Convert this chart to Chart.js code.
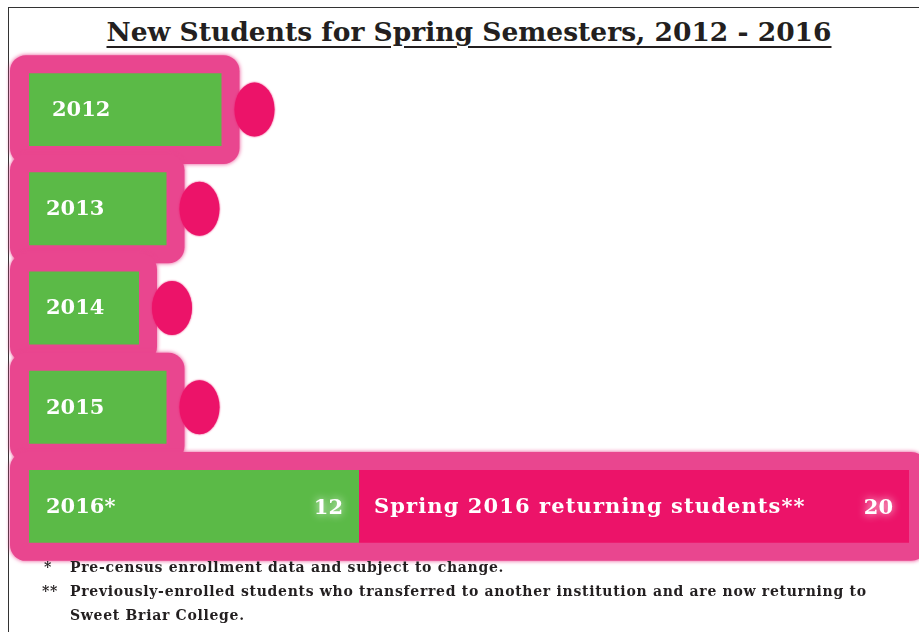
<!DOCTYPE html>
<html>
<head>
<meta charset="utf-8">
<script src="https://cdn.jsdelivr.net/npm/chart.js@4"></script>
<style>
  html, body { margin: 0; padding: 0; background: #fff; }
  #wrap { position: relative; width: 919px; height: 632px; overflow: hidden; }
  #frame { position: absolute; left: 8px; top: 7px; width: 940px; height: 700px; border-left: 1.5px solid #333; border-top: 1.5px solid #333; }
  #title { position: absolute; left: 0; top: 16px; width: 938px; text-align: center;
    font: bold 26.5px 'DejaVu Serif', serif; color: #231f20; text-decoration: underline;
    text-decoration-thickness: 2px; text-underline-offset: 5px; }
  .note { position: absolute; font: bold 14px 'DejaVu Serif', serif; color: #231f20; letter-spacing: 0.7px; }
  canvas { position: absolute; left: 0; top: 0; }
</style>
</head>
<body>
<div id="wrap">
  <div id="frame"></div>
  <div id="title">New Students for Spring Semesters, 2012 - 2016</div>
  <canvas id="grafica" width="919" height="632"></canvas>
  <div class="note" style="left:44px; top:559px;">*</div>
  <div class="note" style="left:70px; top:559px;">Pre-census enrollment data and subject to change.</div>
  <div class="note" style="left:42px; top:583px;">**</div>
  <div class="note" style="left:70px; top:583px;">Previously-enrolled students who transferred to another institution and are now returning to</div>
  <div class="note" style="left:70px; top:607px;">Sweet Briar College.</div>
</div>
<script>
const years = ['2012', '2013', '2014', '2015', '2016*'];
const newStudents = [7, 5, 4, 5, 12];
const returning = [0, 0, 0, 0, 20];
const returningLabel = 'Spring 2016 returning students**';

const green = '#5bba47';
const framePink = '#e9468f';
const deepPink = '#ec1369';

// pink "battery" frames + blobs behind the bars
const framePlugin = {
    id: 'frames',
    beforeDatasetsDraw(chart) {
        const ctx = chart.ctx;
        const m0 = chart.getDatasetMeta(0);
        const m1 = chart.getDatasetMeta(1);
        ctx.save();
        ctx.fillStyle = framePink;
        ctx.shadowColor = framePink;
        ctx.shadowBlur = 4;
        m0.data.forEach((bar, i) => {
            let end = bar.x;
            if (returning[i] > 0) end = m1.data[i].x;
            const h = bar.height;
            ctx.beginPath();
            ctx.roundRect(bar.base - 19, bar.y - h / 2 - 18, end - bar.base + 37, h + 36, 16);
            ctx.fill();
        });
        ctx.shadowBlur = 2;
        ctx.fillStyle = deepPink;
        ctx.shadowColor = deepPink;
        m0.data.forEach((bar, i) => {
            if (returning[i] > 0) return;
            ctx.beginPath();
            ctx.ellipse(bar.x + 33, bar.y, 20, 27, 0, 0, Math.PI * 2);
            ctx.fill();
        });
        ctx.restore();
    }
};

// labels inside the bars
const labelPlugin = {
    id: 'labels',
    afterDatasetsDraw(chart) {
        const ctx = chart.ctx;
        const m0 = chart.getDatasetMeta(0);
        const m1 = chart.getDatasetMeta(1);
        ctx.save();
        ctx.fillStyle = '#fff';
        ctx.textBaseline = 'middle';
        ctx.font = 'bold 21px "DejaVu Serif"';
        m0.data.forEach((bar, i) => {
            ctx.textAlign = 'left';
            ctx.fillText(years[i], bar.base + (i == 0 ? 23 : 17), bar.y + 1);
            if (returning[i] > 0) {
                ctx.shadowColor = 'rgba(255,255,255,0.9)';
                ctx.shadowBlur = 8;
                ctx.textAlign = 'right';
                ctx.fillText(String(newStudents[i]), bar.x - 16, bar.y + 2);
                const b2 = m1.data[i];
                ctx.fillText(String(returning[i]), b2.x - 16, b2.y + 2);
                ctx.shadowBlur = 0;
                ctx.textAlign = 'left';
                ctx.letterSpacing = '1.1px';
                ctx.fillText(returningLabel, b2.base + 15, b2.y + 1);
                ctx.letterSpacing = '0px';
            }
        });
        ctx.restore();
    }
};

const ctx1 = document.getElementById('grafica').getContext('2d');

new Chart(ctx1, {
    type: 'bar',
    data: {
        labels: years,
        datasets: [{
            label: 'New students',
            data: newStudents,
            backgroundColor: green,
            borderWidth: 0
        }, {
            label: 'Returning students',
            data: returning,
            backgroundColor: deepPink,
            borderWidth: 0
        }]
    },
    options: {
        indexAxis: 'y',
        responsive: false,
        animation: false,
        layout: { padding: { left: 29, right: 10, top: 60, bottom: 76 } },
        datasets: { bar: { categoryPercentage: 1, barPercentage: 0.735 } },
        scales: {
            x: { stacked: true, min: 0, max: 32, display: false },
            y: { stacked: true, display: false }
        },
        plugins: {
            legend: { display: false },
            tooltip: { enabled: false }
        }
    },
    plugins: [framePlugin, labelPlugin]
});
</script>
</body>
</html>
